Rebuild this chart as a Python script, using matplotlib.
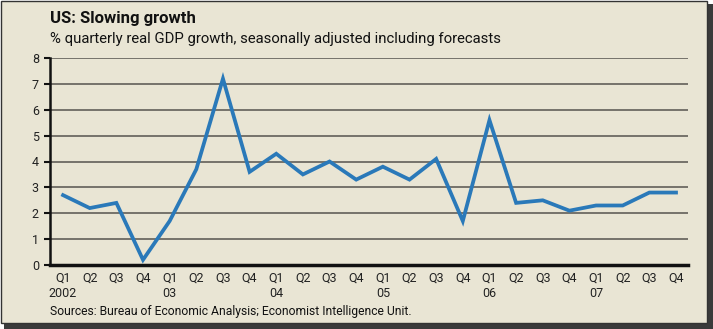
import matplotlib
matplotlib.use("Agg")
import matplotlib.pyplot as plt
from matplotlib.patches import Rectangle

quarters = ["Q1", "Q2", "Q3", "Q4"] * 6
years = ["2002", "03", "04", "05", "06", "07"]
growth = [2.7, 2.2, 2.4, 0.2, 1.7, 3.7, 7.2, 3.6,
          4.3, 3.5, 4.0, 3.3, 3.8, 3.3, 4.1, 1.7,
          5.6, 2.4, 2.5, 2.1, 2.3, 2.3, 2.8, 2.8]
yticks = [0, 1, 2, 3, 4, 5, 6, 7, 8]

plt.rcParams["font.family"] = ["Roboto", "DejaVu Sans"]

W, H = 713, 329
fig = plt.figure(figsize=(W / 100, H / 100), dpi=100, facecolor="white")

bg = "#e9e5d4"
# shadow
fig.patches.append(Rectangle((4 / W, 0), 709 / W, 325 / H, transform=fig.transFigure,
                             facecolor="#3a3a3a", edgecolor="none", zorder=0))
# panel
fig.patches.append(Rectangle((0.5 / W, 1 - 323 / H), 706.5 / W, 322.5 / H, transform=fig.transFigure,
                             facecolor=bg, edgecolor="#333333", linewidth=1.0, zorder=1))

ax = fig.add_axes([50 / W, 1 - 265 / H, 638 / W, 207 / H])
ax.set_facecolor("none")
ax.set_zorder(2)

x = list(range(len(growth)))
for yv in yticks[1:]:
    ax.axhline(yv, color="#6c6a62", linewidth=1.3, zorder=1)
ax.plot(x, growth, color="#2a79b9", linewidth=2.7, solid_joinstyle="miter", zorder=3)

ax.set_xlim(-0.49, 23.45)
ax.set_ylim(0, 8)
ax.set_yticks(yticks)
ax.set_yticklabels([str(v) for v in yticks], fontsize=9, color="#222222")
ax.tick_params(axis="y", length=4, width=1.5, color="#111111", pad=4)

labels = []
for i, q in enumerate(quarters):
    if i % 4 == 0:
        labels.append(q + "\n" + years[i // 4])
    else:
        labels.append(q)
ax.set_xticks(x)
ax.set_xticklabels(labels, fontsize=9, color="#222222", linespacing=1.25, va="top")
ax.tick_params(axis="x", length=0, pad=5)

for s in ["top", "right"]:
    ax.spines[s].set_visible(False)
ax.spines["left"].set_linewidth(1.8)
ax.spines["left"].set_color("#111111")
ax.spines["bottom"].set_linewidth(2.5)
ax.spines["bottom"].set_color("#111111")
ax.spines["bottom"].set_zorder(4)

fig.text(50 / W, 1 - 18 / H, "US: Slowing growth", fontsize=12, fontweight="bold",
         color="#111111", va="center", ha="left", zorder=5)
fig.text(50 / W, 1 - 39 / H, "% quarterly real GDP growth, seasonally adjusted including forecasts",
         fontsize=10.7, color="#111111", va="center", ha="left", zorder=5)
fig.text(50 / W, 1 - 312 / H, "Sources: Bureau of Economic Analysis; Economist Intelligence Unit.",
         fontsize=8.7, color="#111111", va="center", ha="left", zorder=5)

fig.savefig("out.png", dpi=100, facecolor="white")
